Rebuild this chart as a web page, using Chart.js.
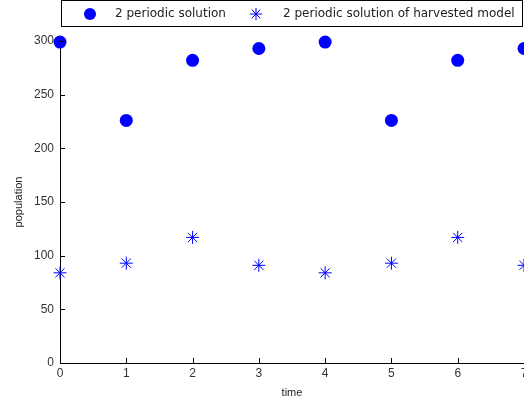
<!DOCTYPE html>
<html><head><meta charset="utf-8">
<script src="https://cdn.jsdelivr.net/npm/chart.js@4/dist/chart.umd.min.js"></script>
<style>html,body{margin:0;padding:0;background:#fff;}#wrap{width:524px;height:404px;}</style>
</head><body><div id="wrap"><canvas id="c" width="524" height="404"></canvas></div>
<script>
const times = [0,1,2,3,4,5,6,7];
const periodic = [299,226,282,293,299,226,282,293];
const harvested = [84,93,117,91,84,93,117,91];
const yTicks = [0,50,100,150,200,250,300];
const xTicks = [0,1,2,3,4,5,6,7];
const seriesLabels = ['2 periodic solution','2 periodic solution of harvested model'];

const FONT = '"Liberation Sans", Arial, sans-serif';
const LFONT = '"DejaVu Sans", sans-serif';

const tickPlugin = {
  id:'inTicks',
  afterDatasetsDraw(chart){
    const ctx = chart.ctx, xs = chart.scales.x, ys = chart.scales.y, a = chart.chartArea;
    ctx.save();
    ctx.strokeStyle = '#000'; ctx.lineWidth = 1;
    ctx.beginPath();
    xTicks.forEach(v=>{ const px = Math.round(xs.getPixelForValue(v))+0.5; ctx.moveTo(px, a.bottom); ctx.lineTo(px, a.bottom-5); });
    yTicks.forEach(v=>{ const py = Math.round(ys.getPixelForValue(v))+0.5; ctx.moveTo(a.left, py); ctx.lineTo(a.left+5, py); });
    ctx.stroke();
    // legend
    const lx = 61.5, ly = 0.5, lw = 461, lh = 26;
    ctx.fillStyle = '#fff'; ctx.fillRect(lx, ly, lw, lh);
    ctx.strokeRect(lx, ly, lw, lh);
    ctx.fillStyle = '#0000ff';
    ctx.beginPath(); ctx.arc(90, 14, 6, 0, Math.PI*2); ctx.fill();
    ctx.strokeStyle = '#0000ff';
    ctx.beginPath();
    const sx = 256, sy = 14, r = 6;
    ctx.moveTo(sx-r, sy); ctx.lineTo(sx+r, sy);
    ctx.moveTo(sx, sy-r); ctx.lineTo(sx, sy+r);
    const d = r*0.7071;
    ctx.moveTo(sx-d, sy-d); ctx.lineTo(sx+d, sy+d);
    ctx.moveTo(sx-d, sy+d); ctx.lineTo(sx+d, sy-d);
    ctx.stroke();
    ctx.fillStyle = '#222'; ctx.font = '12px ' + LFONT; ctx.textBaseline = 'middle'; ctx.textAlign='left';
    ctx.fillText(seriesLabels[0], 115, 14);
    ctx.fillText(seriesLabels[1], 283, 14);
    ctx.restore();
  }
};

new Chart(document.getElementById('c'), {
  type:'scatter',
  data:{
    datasets:[
      {label:seriesLabels[0], data:times.map((t,i)=>({x:t,y:periodic[i]})), pointStyle:'circle', pointRadius:6.5, backgroundColor:'#0000ff', borderColor:'#0000ff', borderWidth:0, clip:false},
      {label:seriesLabels[1], data:times.map((t,i)=>({x:t,y:harvested[i]})), pointStyle:'star', pointRadius:6.5, backgroundColor:'#0000ff', borderColor:'#0000ff', borderWidth:1, clip:false}
    ]
  },
  options:{
    responsive:false, animation:false, devicePixelRatio:1,
    layout:{autoPadding:false, padding:{top:41,right:0,left:0,bottom:0}},
    plugins:{legend:{display:false}, tooltip:{enabled:false}},
    scales:{
      x:{type:'linear', min:0, max:7,
        afterBuildTicks(s){ s.ticks = xTicks.map(v=>({value:v})); },
        afterFit(s){ s.height = 41; s.paddingRight = 0; s.paddingLeft = 0; },
        grid:{display:false, drawTicks:false}, border:{display:true,color:'#000',width:1},
        ticks:{color:'#333', font:{family:FONT,size:12}, padding:3},
        title:{display:true, text:'time', color:'#222', font:{family:FONT,size:11}, padding:{top:0,bottom:4}}
      },
      y:{type:'linear', min:0, max:300,
        afterBuildTicks(s){ s.ticks = yTicks.map(v=>({value:v})); },
        afterFit(s){ s.width = 60; s.paddingTop = 0; s.paddingBottom = 0; },
        grid:{display:false, drawTicks:false}, border:{display:true,color:'#000',width:1},
        ticks:{color:'#333', font:{family:FONT,size:12}, padding:6},
        title:{display:true, text:'population', color:'#222', font:{family:FONT,size:11}, padding:{top:12,bottom:0}}
      }
    }
  },
  plugins:[tickPlugin]
});
</script></body></html>
